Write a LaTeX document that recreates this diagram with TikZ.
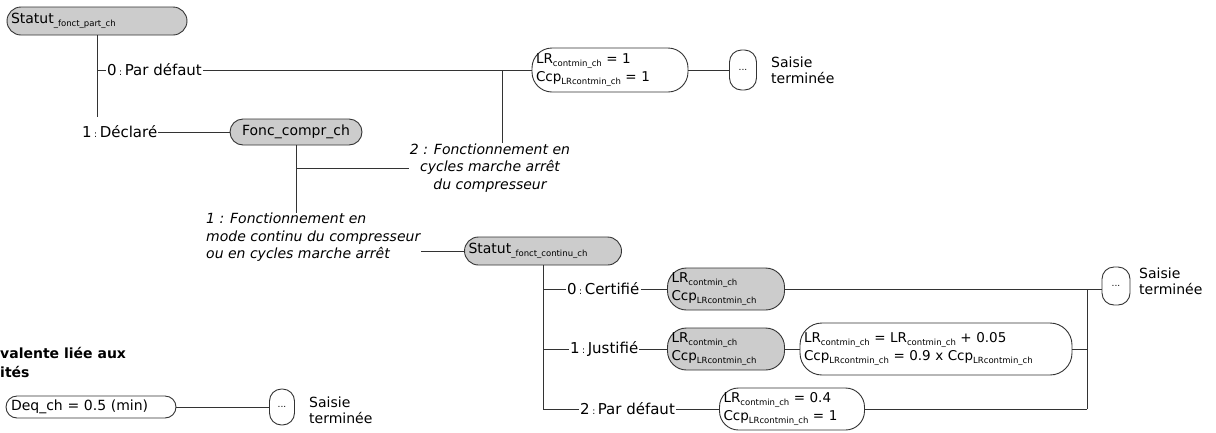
\documentclass[tikz,border=0pt]{standalone}
\usepackage{fontspec}
\setmainfont{DejaVu Sans}

\newcommand{\lowsub}[1]{\raisebox{-0.35ex}{\fontsize{8.5}{9}\selectfont #1}}
\newcommand{\csep}{\,{\fontsize{9}{9}\selectfont :}\,}

\tikzset{
  grbox/.style={draw=black!80, fill=black!20, line width=0.9pt, inner xsep=4pt, inner ysep=0pt, align=left, font=\fontsize{13.5}{18}\selectfont},
  whbox/.style={grbox, fill=white},
  dotbox/.style={draw=black!80, fill=white, line width=0.9pt, rounded corners=12pt, inner sep=0pt, font=\fontsize{9}{9}\selectfont},
  brlabel/.style={inner sep=1pt, anchor=west, font=\fontsize{15}{17}\selectfont},
  endtxt/.style={inner sep=0pt, align=left, anchor=west, font=\fontsize{14}{16}\selectfont},
  casetxt/.style={inner sep=1pt, font=\itshape\fontsize{14}{17.5}\selectfont},
  link/.style={draw=black!80, line width=0.9pt}
}

\begin{document}
\begin{tikzpicture}[x=1pt,y=-1pt]
  \useasboundingbox (0,0) rectangle (1216,432);

  % statut fonctionnement partiel
  \node [grbox, rounded corners=14pt, text width=172pt, minimum height=28pt, font=\fontsize{14}{18}\selectfont] (stpart) at (97,21) {Statut\lowsub{\_fonct\_part\_ch}};
  \coordinate (j0) at (97,70);
  \coordinate (j1) at (97,117);
  \node [brlabel] (p0) at (106,70) {0\csep Par défaut};
  \node [brlabel] (p1) at (81,132) {1\csep Déclaré};

  \node [whbox, rounded corners=20pt, text width=148pt, minimum height=44pt] (lr0) at (610,70) {LR\lowsub{contmin\_ch} = 1\\Ccp\lowsub{LRcontmin\_ch} = 1};
  \node [dotbox, minimum width=27pt, minimum height=40pt] (dt0) at (743,70) {...};
  \node [endtxt] (sa0) at (771,70) {Saisie\\terminée};

  \node [grbox, rounded corners=13pt, text width=124pt, minimum height=26pt, align=center, font=\fontsize{14}{18}\selectfont] (fonc) at (296,132) {Fonc\_compr\_ch};
  \coordinate (m2) at (502,70);
  \coordinate (fc1) at (296,168);
  \coordinate (fc2) at (296,213);
  \node [casetxt, align=center] (cs2) at (490,168) {2 : Fonctionnement en\\cycles marche arrêt\\du compresseur};
  \node [casetxt, align=left, anchor=north west] (cs1) at (205,212) {1 : Fonctionnement en\\mode continu du compresseur\\ou en cycles marche arrêt};

  \draw [link] (stpart) -- (j1);
  \draw [link] (j0) -- (p0) -- (lr0) -- (dt0);
  \draw [link] (p1) -- (fonc);
  \draw [link] (m2) -- (m2 |- cs2.north);
  \draw [link] (fonc) -- (fc2);
  \draw [link] (fc1) -- (cs2.west);

  % statut fonctionnement continu
  \node [grbox, rounded corners=14pt, text width=149pt, minimum height=28pt, font=\fontsize{14}{18}\selectfont] (stcont) at (543,251) {Statut\lowsub{\_fonct\_continu\_ch}};
  \coordinate (c0) at (543,289);
  \coordinate (c1) at (543,349);
  \coordinate (c2) at (543,409);
  \node [brlabel] (q0) at (566,289) {0\csep Certifié};
  \node [brlabel] (q1) at (569,349) {1\csep Justifié};
  \node [brlabel] (q2) at (579,409) {2\csep Par défaut};

  \node [grbox, rounded corners=19pt, text width=109pt, minimum height=42pt] (gc0) at (726,289) {LR\lowsub{contmin\_ch}\\Ccp\lowsub{LRcontmin\_ch}};
  \node [grbox, rounded corners=19pt, text width=109pt, minimum height=42pt] (gc1) at (726,349) {LR\lowsub{contmin\_ch}\\Ccp\lowsub{LRcontmin\_ch}};
  \node [whbox, rounded corners=22pt, text width=264pt, minimum height=52pt] (wj) at (936,349) {LR\lowsub{contmin\_ch} = LR\lowsub{contmin\_ch} + 0.05\\Ccp\lowsub{LRcontmin\_ch} = 0.9 x Ccp\lowsub{LRcontmin\_ch}};
  \node [whbox, rounded corners=19pt, text width=137pt, minimum height=42pt] (wp) at (792,409) {LR\lowsub{contmin\_ch} = 0.4\\Ccp\lowsub{LRcontmin\_ch} = 1};

  \coordinate (b0) at (1087,289);
  \coordinate (b1) at (1087,349);
  \coordinate (b2) at (1087,409);
  \node [dotbox, minimum width=28pt, minimum height=38pt] (dt1) at (1116,286) {...};
  \node [endtxt] (sa1) at (1139,281) {Saisie\\terminée};

  \draw [link] (cs1.east |- stcont.west) -- (stcont);
  \draw [link] (stcont) -- (c2);
  \draw [link] (c0) -- (q0) -- (gc0) -- (gc0.east -| dt1.west);
  \draw [link] (c1) -- (q1) -- (gc1) -- (wj) -- (b1);
  \draw [link] (c2) -- (q2) -- (wp) -- (b2);
  \draw [link] (b2) -- (b0);

  % duree equivalente
  \node [inner sep=0pt, anchor=north west, align=left, font=\bfseries\fontsize{14}{19}\selectfont] (ttl) at (0,347) {valente liée aux\\ités};
  \node [whbox, rounded corners=11pt, text width=160pt, minimum height=22pt, inner xsep=5pt, font=\fontsize{14}{18}\selectfont] (deq) at (91,407) {Deq\_ch = 0.5 (min)};
  \node [dotbox, minimum width=25pt, minimum height=36pt] (dt2) at (282,407) {...};
  \node [endtxt] (sa2) at (309,410) {Saisie\\terminée};
  \draw [link] (deq) -- (dt2);
\end{tikzpicture}
\end{document}
